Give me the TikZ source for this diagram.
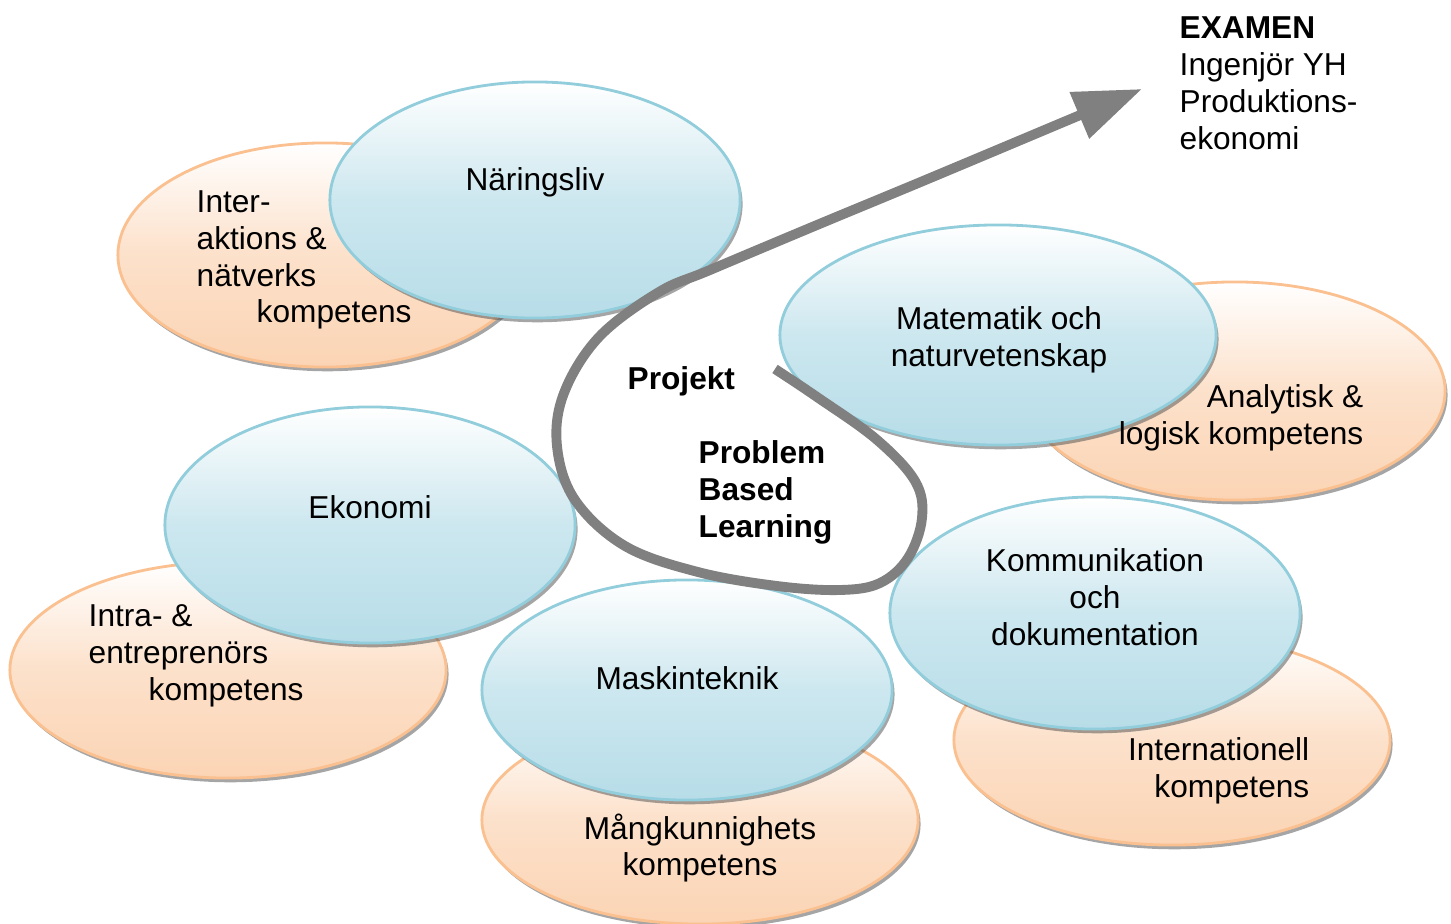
\documentclass[tikz,border=0pt]{standalone}
\usepackage{fontspec}
\setmainfont{Liberation Sans}
\usetikzlibrary{shapes.geometric,shadows,arrows.meta}

\definecolor{blueline}{RGB}{146,205,220}
\definecolor{bluefill}{RGB}{183,221,232}
\definecolor{orangeline}{RGB}{250,192,144}
\definecolor{orangefill}{RGB}{251,212,180}
\definecolor{arrowgray}{RGB}{128,128,128}

\tikzset{
  bubble/.style={ellipse,inner sep=0pt,line width=0.8pt,top color=white,
    drop shadow={shadow xshift=0.7pt,shadow yshift=-1.2pt,fill=black!70,opacity=0.5}},
  bluebubble/.style={bubble,draw=blueline,bottom color=bluefill,middle color=bluefill!70},
  orangebubble/.style={bubble,draw=orangeline,bottom color=orangefill,middle color=orangefill!70},
  txt/.style={inner sep=0pt,font=\fontsize{9}{10.5}\selectfont},
}

\begin{document}
\begin{tikzpicture}[x=0.01cm,y=-0.01cm]
      \useasboundingbox (0,0) rectangle (1451,924);
      \foreach \n/\x/\y/\w/\h in {interakt/325/255/4.14/2.24,
        analyt/1235/391/4.20/2.18,
        intra/228/670/4.36/2.16,
        mang/700/820/4.36/2.08,
        intl/1172/740/4.36/2.10}
      \node[orangebubble,minimum width=\w cm,minimum height=\h cm] (\n) at (\x,\y) {};
      \foreach \n/\x/\y/\w/\h in {naring/535/200/4.10/2.36,
        matnat/998/335/4.36/2.20,
        eko/370/525/4.10/2.36,
        mask/687/690/4.10/2.20,
        komm/1095/613/4.10/2.32}
      \node[bluebubble,minimum width=\w cm,minimum height=\h cm] (\n) at (\x,\y) {};

      \node[txt] (naringtxt) at (535,182) {Näringsliv};
      \node[txt,align=left,anchor=west] (interakttxt) at (196,260)
        {Inter-\\aktions \&\\nätverks\\\hspace*{6mm}kompetens};
      \node[txt,align=center] (matnattxt) at (999,340) {Matematik och\\naturvetenskap};
      \node[txt,align=right,anchor=east] (analyttxt) at (1364,418) {Analytisk \&\\logisk kompetens};
      \node[txt] (ekotxt) at (370,507) {Ekonomi};
      \node[txt,align=left,anchor=west] (intratxt) at (88,656)
        {Intra- \&\\entreprenörs\\\hspace*{6mm}kompetens};
      \node[txt] (masktxt) at (687,678) {Maskinteknik};
      \node[txt,align=center] (mangtxt) at (700,848) {Mångkunnighets\\kompetens};
      \node[txt,align=center] (kommtxt) at (1095,597) {Kommunikation\\och\\dokumentation};
      \node[txt,align=right,anchor=east] (intltxt) at (1310,771) {Internationell\\kompetens};
      \node[txt,font=\fontsize{9}{10.5}\selectfont\bfseries,anchor=west] (projekttxt) at (627,381) {Projekt};
      \node[txt,font=\fontsize{9}{10.5}\selectfont\bfseries,align=left,anchor=west] (pbltxt) at (698,492)
        {Problem\\Based\\Learning};
      \node[txt,align=left,anchor=west] (examentxt) at (1179,83)
        {\textbf{EXAMEN}\\Ingenjör YH\\Produktions-\\ekonomi};

      \coordinate (start) at (775,369);
      \coordinate (tip) at (1142,89);
      \draw[arrowgray,line width=2.8pt,-{Triangle[length=6.8mm,width=4.8mm]}]
      plot[smooth,tension=0.6] coordinates {(start) (817,397) (876,439) (915,481) (922,518)
        (908,558) (880,583) (840,590) (777,586) (698,572) (625,546) (575,500) (557,446)
        (564,393) (599,337) (659,292) (710,270) (817,225) (935,176) (tip)};
\end{tikzpicture}
\end{document}
